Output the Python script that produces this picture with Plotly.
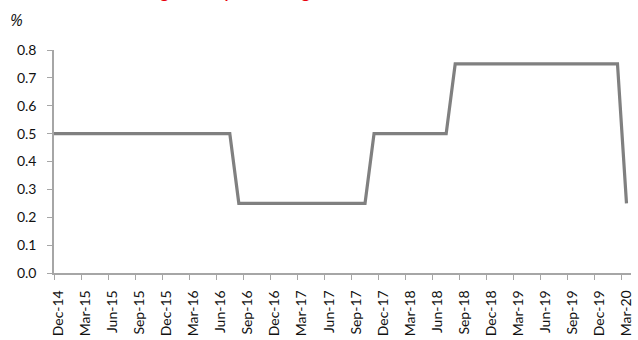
import pandas as pd
import plotly.graph_objects as go

# Monthly observation labels, Nov-14 through Mar-20
months = [d.strftime("%b-%y") for d in pd.date_range("2014-11-01", "2020-03-01", freq="MS")]

# Policy rate (%) by month
rate = (
    [0.5] * 21      # Nov-14 .. Jul-16
    + [0.25] * 15   # Aug-16 .. Oct-17
    + [0.5] * 9     # Nov-17 .. Jul-18
    + [0.75] * 19   # Aug-18 .. Feb-20
    + [0.25]        # Mar-20
)

# Quarterly labels shown on the axis (Dec-14 onwards)
tick_labels = months[1::3]
y_ticks = [0.0, 0.1, 0.2, 0.3, 0.4, 0.5, 0.6, 0.7, 0.8]

idx = list(range(len(months)))
label_pos = idx[1::3]
boundary_pos = [i - 0.5 for i in label_pos]

axis_grey = "#A6A6A6"
text_col = "#111111"
font_family = "Lato, 'Open Sans', sans-serif"

fig = go.Figure()
fig.add_trace(go.Scatter(
    x=idx, y=rate, mode="lines",
    line=dict(color="#808080", width=3.2),
    hoverinfo="skip", showlegend=False,
))

fig.update_layout(
    width=638, height=340,
    margin=dict(l=54, r=4, t=50, b=65),
    paper_bgcolor="white", plot_bgcolor="white",
    font=dict(family=font_family, size=14, color=text_col),
    showlegend=False,
)

fig.update_xaxes(
    range=[0.5, len(months) - 0.5],
    tickmode="array", tickvals=label_pos, ticktext=tick_labels,
    tickangle=-90, ticks="", ticklabelstandoff=10,
    showline=True, linecolor=axis_grey, linewidth=1.5,
    showgrid=False, zeroline=False,
    minor=dict(tickmode="array", tickvals=boundary_pos, ticks="outside",
               ticklen=5, tickcolor=axis_grey, tickwidth=1.3, showgrid=False),
    tickfont=dict(size=14, color=text_col),
)

fig.update_yaxes(
    range=[0, 0.8],
    tickmode="array", tickvals=y_ticks, ticktext=[f"{v:.1f}" for v in y_ticks],
    ticks="outside", ticklen=5, tickcolor=axis_grey, tickwidth=1.3,
    ticklabelstandoff=8,
    showline=True, linecolor=axis_grey, linewidth=1.5,
    showgrid=False, zeroline=False,
    tickfont=dict(size=14, color=text_col),
)

# Unit label above the y axis
fig.add_annotation(
    text="<i>%</i>", xref="paper", yref="paper", x=0, y=1,
    xshift=-46, yshift=30, xanchor="left", yanchor="middle",
    showarrow=False, font=dict(size=16, color=text_col, family="'Open Sans', sans-serif"),
)

# Chart heading in red, sitting at the very top edge
fig.add_annotation(
    text="<b>Bank of England: key rate changes</b>", xref="paper", yref="paper",
    x=0, y=1, xshift=28, yshift=47, xanchor="left", yanchor="bottom",
    showarrow=False, font=dict(size=16, color="#E8000B", family=font_family),
)

fig.write_html("out.html")
